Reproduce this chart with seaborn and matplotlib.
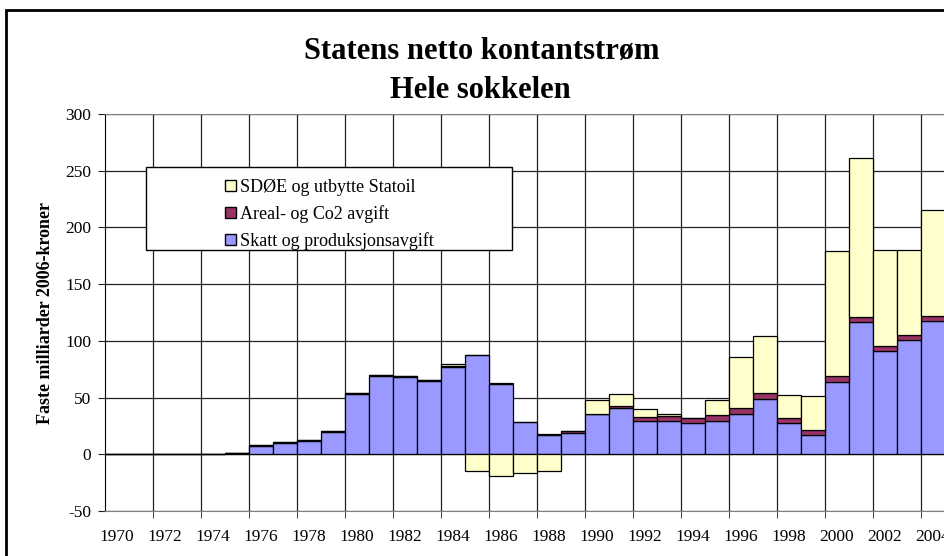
import numpy as np
import matplotlib
matplotlib.use('Agg')
import matplotlib.pyplot as plt
from matplotlib.patches import Rectangle, Patch
import seaborn as sns

# Data (faste milliarder 2006-kroner)
years = list(range(1970, 2005))
skatt = [0, 0, 0.3, 0.3, 0.5, 1.0, 7.0, 10.0, 12.0, 20.0,
         53.0, 68.7, 67.8, 64.3, 76.9, 87.3, 61.7, 28.5, 17.4, 18.9,
         35.2, 41.0, 29.7, 29.7, 27.2, 29.7, 35.3, 49.0, 27.4, 16.9,
         63.9, 116.3, 91.2, 100.7, 117.3]
areal = [0, 0, 0, 0, 0, 0, 0.8, 0.8, 0.8, 0.8,
         0.8, 0.8, 0.8, 0.8, 0.5, 0.3, 0.8, 0.3, 0.3, 2.0,
         0.3, 2.0, 3.1, 4.3, 4.5, 4.6, 5.4, 4.7, 4.9, 4.7,
         4.7, 4.9, 4.3, 4.3, 4.4]
sdoe = [0, 0, 0, 0, 0, 0, 0, 0, 0, 0,
        0, 0, 0, 0, 2.1, -14.6, -19.0, -16.6, -14.3, 0,
        12.5, 10.3, 7.2, 1.8, 0.3, 13.6, 44.9, 50.3, 20.4, 29.4,
        110.3, 140.4, 84.2, 75.0, 93.3]

labels = ['Skatt og produksjonsavgift', 'Areal- og Co2 avgift', 'SDØE og utbytte Statoil']
colors = ['#9999FF', '#993366', '#FFFFCC']

sns.set_style('white')
plt.rcParams['font.family'] = ['Liberation Serif', 'DejaVu Serif']
plt.rcParams['axes.unicode_minus'] = False
for k in ['text.color', 'axes.labelcolor', 'xtick.labelcolor', 'ytick.labelcolor']:
    plt.rcParams[k] = 'black'

fig = plt.figure(figsize=(9.44, 5.56), dpi=100)
ax = fig.add_axes([105 / 944, 45 / 556, 864 / 944, 397 / 556])
ax.set_axisbelow(True)

x = [str(y) for y in years]
skatt = np.array(skatt)
areal = np.array(areal)
sdoe = np.array(sdoe)
# negative SDØE values hang below zero, positive ones stack on top
sdoe_bottom = np.where(sdoe < 0, 0, skatt + areal)

bar_kw = dict(saturation=1, width=1, edgecolor='black', linewidth=0.9, errorbar=None, ax=ax)
sns.barplot(x=x, y=skatt, color=colors[0], **bar_kw)
sns.barplot(x=x, y=areal, bottom=skatt, color=colors[1], **bar_kw)
sns.barplot(x=x, y=sdoe, bottom=sdoe_bottom, color=colors[2], **bar_kw)

# axes
ax.set_xlim(-0.5, 35.5)
ax.set_ylim(-50, 300)
ax.set_yticks(range(-50, 301, 50))
ax.set_xticks(range(0, len(years), 2))
ax.set_xticklabels([str(y) for y in years[::2]])
ax.set_xticks(np.arange(1.5, 36, 2), minor=True)
ax.tick_params(axis='x', which='major', length=0, pad=13, labelsize=12.5)
ax.tick_params(axis='x', which='minor', bottom=True, length=5, direction='out', color='#222222')
ax.tick_params(axis='y', left=True, length=5, direction='out', pad=5, labelsize=12.5, color='#222222')
ax.grid(axis='x', which='minor', color='#222222', lw=0.9)
ax.grid(axis='y', which='major', color='#222222', lw=0.9)
ax.set_xlabel('')
ax.set_ylabel('Faste milliarder 2006-kroner', fontweight='bold', fontsize=13, labelpad=8)
for s in ['top', 'bottom', 'right']:
    ax.spines[s].set_color('#808080')
ax.spines['left'].set_color('black')

# titles
fig.text(482 / 944, 1 - 51 / 556, 'Statens netto kontantstrøm', ha='center', va='center',
         fontsize=22, fontweight='bold')
fig.text(480 / 944, 1 - 90 / 556, 'Hele sokkelen', ha='center', va='center',
         fontsize=22, fontweight='bold')

# legend box (wide white box) and entries
box = Rectangle((146 / 944, 1 - 250 / 556), 366 / 944, 83 / 556, transform=fig.transFigure,
                facecolor='white', edgecolor='black', lw=1, zorder=5, clip_on=False)
ax.add_patch(box)
handles = [Patch(facecolor=colors[i], edgecolor='black', lw=1) for i in [2, 1, 0]]
leg = ax.legend(handles, [labels[i] for i in [2, 1, 0]], loc='upper left',
                bbox_to_anchor=(216 / 944, 1 - 170 / 556), bbox_transform=fig.transFigure,
                frameon=False, fontsize=13, borderpad=0, handlelength=0.6, handleheight=0.6,
                handletextpad=0.25, labelspacing=0.5)
leg.set_zorder(6)

# chart outer border (cut off at right and bottom)
fig.patches.append(Rectangle((6 / 944, -0.2), 2, 1.2 - 10 / 556, transform=fig.transFigure,
                             fill=False, edgecolor='black', lw=2))

fig.savefig('out.png', dpi=100)
